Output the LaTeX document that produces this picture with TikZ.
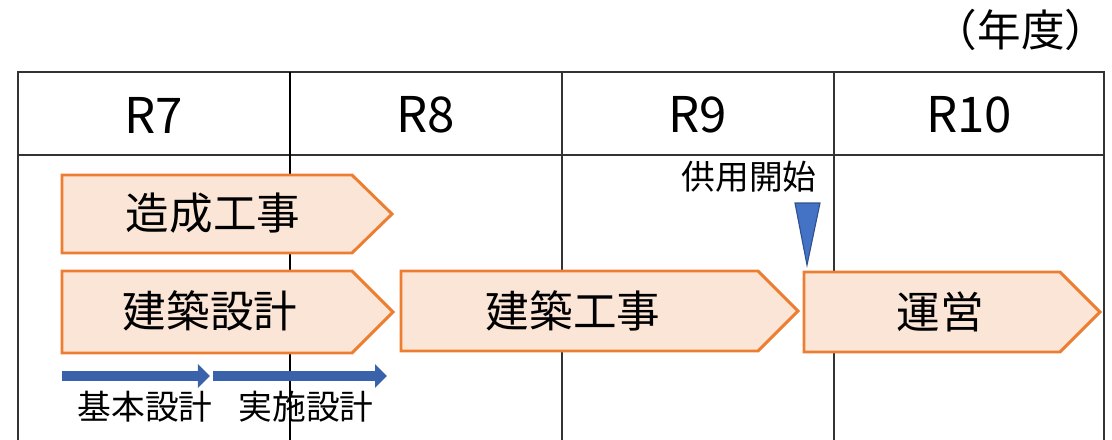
\documentclass[tikz,border=0pt]{standalone}
\usepackage{fontspec}
\setmainfont{Noto Sans CJK JP}
\usepackage{tikz}
\usetikzlibrary{arrows.meta}

\definecolor{phaseline}{HTML}{ED7D31}
\definecolor{phasefill}{HTML}{FBE5D6}
\definecolor{markblue}{HTML}{4472C4}
\definecolor{markline}{HTML}{2F528F}
\definecolor{stepblue}{HTML}{3A62AA}

\begin{document}
\begin{tikzpicture}[x = 0.025cm, y = -0.025cm,
    grid/.style = {draw = black!80, line width = 0.9pt},
    year/.style = {font = \fontsize{35}{40}\selectfont},
    phasebox/.style = {draw = phaseline, fill = phasefill, line width = 2.1pt, line join = miter},
    phase/.style = {font = \fontsize{31}{36}\selectfont},
    small/.style = {font = \fontsize{24}{28}\selectfont},
    stepline/.style = {draw = stepblue, line width = 7.8pt, -{Triangle[length = 0.3cm, width = 0.58cm]}}]
      \useasboundingbox (0,0) rectangle (1112,440);

      % table
      \draw[grid] (18,440) -- (18,72) -- (1104,72) -- (1104,440);
      \draw[grid] (18,155) -- (1104,155);
      \draw[grid] (562,72) -- (562,440);
      \draw[grid] (834,72) -- (834,440);
      \draw[grid, draw = black, line width = 1.6pt] (290,72) -- (290,440);
      \node[font = \fontsize{31}{34}\selectfont] (nendo) at (1021,30) {（年度）};
      \node[year] (r7) at (154,115) {R7};
      \node[year] (r8) at (426,115) {R8};
      \node[year] (r9) at (698,115) {R9};
      \node[year] (r10) at (969,115) {R10};

      % phases
      \draw[phasebox] (62,175) -- (352,175) -- (392,214) -- (352,253) -- (62,253) -- cycle;
      \node[phase] (zosei) at (213,213) {造成工事};
      \draw[phasebox] (62,271) -- (352,271) -- (393,312) -- (352,353) -- (62,353) -- cycle;
      \node[phase] (sekkei) at (210,311) {建築設計};
      \draw[phasebox] (401,271) -- (758,271) -- (798,311) -- (758,351) -- (401,351) -- cycle;
      \node[phase] (koji) at (573,311) {建築工事};
      \draw[phasebox] (804,272) -- (1060,272) -- (1100,312) -- (1060,352) -- (804,352) -- cycle;
      \node[phase] (uei) at (940,312) {運営};

      % start of use
      \node[small] (kyoyo) at (749,177) {供用開始};
      \draw[fill = markblue, draw = markline, line width = 0.8pt] (795,203) -- (820,203) -- (807,265) -- cycle;

      % design steps
      \coordinate (kihonA) at (62,376);
      \coordinate (kihonB) at (210,376);
      \coordinate (jisshiA) at (213,376);
      \coordinate (jisshiB) at (387,376);
      \draw[stepline] (kihonA) -- (kihonB);
      \draw[stepline] (jisshiA) -- (jisshiB);
      \node[small] (kihon) at (145,407) {基本設計};
      \node[small] (jisshi) at (306,407) {実施設計};
    \end{tikzpicture}
\end{document}
